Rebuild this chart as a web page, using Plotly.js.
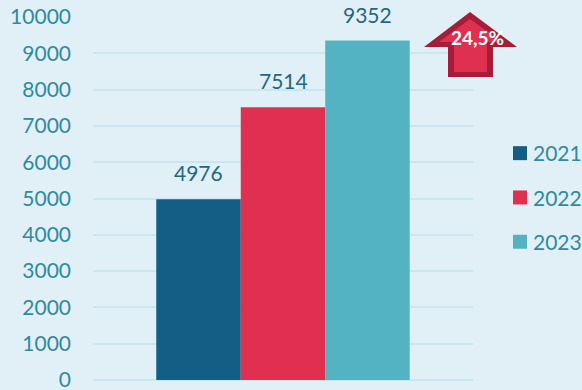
<!DOCTYPE html>
<html>
<head>
<meta charset="utf-8">
<script src="https://cdn.plot.ly/plotly-3.0.1.min.js"></script>
<style>html,body{margin:0;padding:0;background:#e1f0f7;overflow:hidden}</style>
</head>
<body>
<div id="chart" style="width:582px;height:390px"></div>
<script>
var years = ["2021", "2022", "2023"];
var values = [4976, 7514, 9352];
var colors = ["#135e84", "#e03050", "#54b3c3"];
var category = ["Total"];
var yTicks = [0, 1000, 2000, 3000, 4000, 5000, 6000, 7000, 8000, 9000, 10000];
var changeLabel = "24,5%";

var W = 582, H = 390;
var M = {l: 93, r: 109, t: 17, b: 10};
var PW = W - M.l - M.r, PH = H - M.t - M.b;
function px(x) { return (x - M.l) / PW; }
function py(y) { return 1 - (y - M.t) / PH; }
function path(pts) {
  return "M" + pts.map(function (p) { return px(p[0]).toFixed(5) + " " + py(p[1]).toFixed(5); }).join("L") + "Z";
}
var outer = [[470,12],[517,47],[493,47],[493,77],[448,77],[448,47],[424,47]];
var inner = [[470,19],[502,42],[487,42],[487,72],[454,72],[454,42],[439,42]];

var traces = years.map(function (yr, i) {
  return {type: "bar", name: yr, legendgroup: yr, x: category, y: [values[i]],
          marker: {color: colors[i]}, hoverinfo: "name+y"};
});

var labelFont = {family: "Lato, sans-serif", size: 21, color: "#24677f"};
var annotations = years.map(function (yr, i) {
  return {x: category[0], y: values[i], xref: "x", yref: "y", text: String(values[i]),
          showarrow: false, yanchor: "bottom", xshift: (i - 1) * 84.5, yshift: 12, font: labelFont};
});
annotations.push({xref: "paper", yref: "paper", x: px(477.5), y: py(37.5), xanchor: "center", yanchor: "middle",
  text: "<b>" + changeLabel + "</b>", showarrow: false,
  font: {family: "Lato, sans-serif", size: 19, color: "#ffffff"}});

var layout = {
  width: W, height: H,
  margin: {l: M.l, r: M.r, t: M.t, b: M.b, pad: 0},
  paper_bgcolor: "#e1f0f7", plot_bgcolor: "#e1f0f7",
  font: {family: "Lato, sans-serif", size: 21, color: "#2f8a9f"},
  barmode: "group", bargap: 0.333, bargroupgap: 0,
  xaxis: {showticklabels: false, showgrid: false, zeroline: false, ticks: "", fixedrange: true},
  yaxis: {range: [0, 10000], tickmode: "array", tickvals: yTicks, ticktext: yTicks.map(String),
          showgrid: true, gridcolor: "#c8e8ef", gridwidth: 2, zeroline: true, zerolinecolor: "#c8e8ef", zerolinewidth: 2,
          ticks: "", ticklabelstandoff: 21, ticklabeloverflow: "allow", tickfont: {size: 21, color: "#2f8a9f"}, fixedrange: true},
  legend: {xref: "container", yref: "container", x: 493 / W, xanchor: "left", y: 1 - 133 / H, yanchor: "top",
           itemwidth: 30, tracegroupgap: 14,
           bgcolor: "rgba(0,0,0,0)", font: {size: 21, color: "#2f8a9f"}},
  showlegend: true,
  annotations: annotations,
  shapes: [
    {type: "path", xref: "paper", yref: "paper", path: path(outer), fillcolor: "#a61d3a", line: {width: 0}, layer: "above"},
    {type: "path", xref: "paper", yref: "paper", path: path(inner), fillcolor: "#e03050", line: {width: 0}, layer: "above"}
  ]
};
Plotly.newPlot("chart", traces, layout, {displayModeBar: false, staticPlot: true}).then(function (gd) {
  var pts = gd.querySelectorAll(".legend .legendpoints");
  pts.forEach(function (g) {
    g.setAttribute("transform", "translate(7,0)");
    var p = g.querySelector("path");
    if (p) p.setAttribute("d", "M7,7H-7V-7H7Z");
  });
});
</script>
</body>
</html>
